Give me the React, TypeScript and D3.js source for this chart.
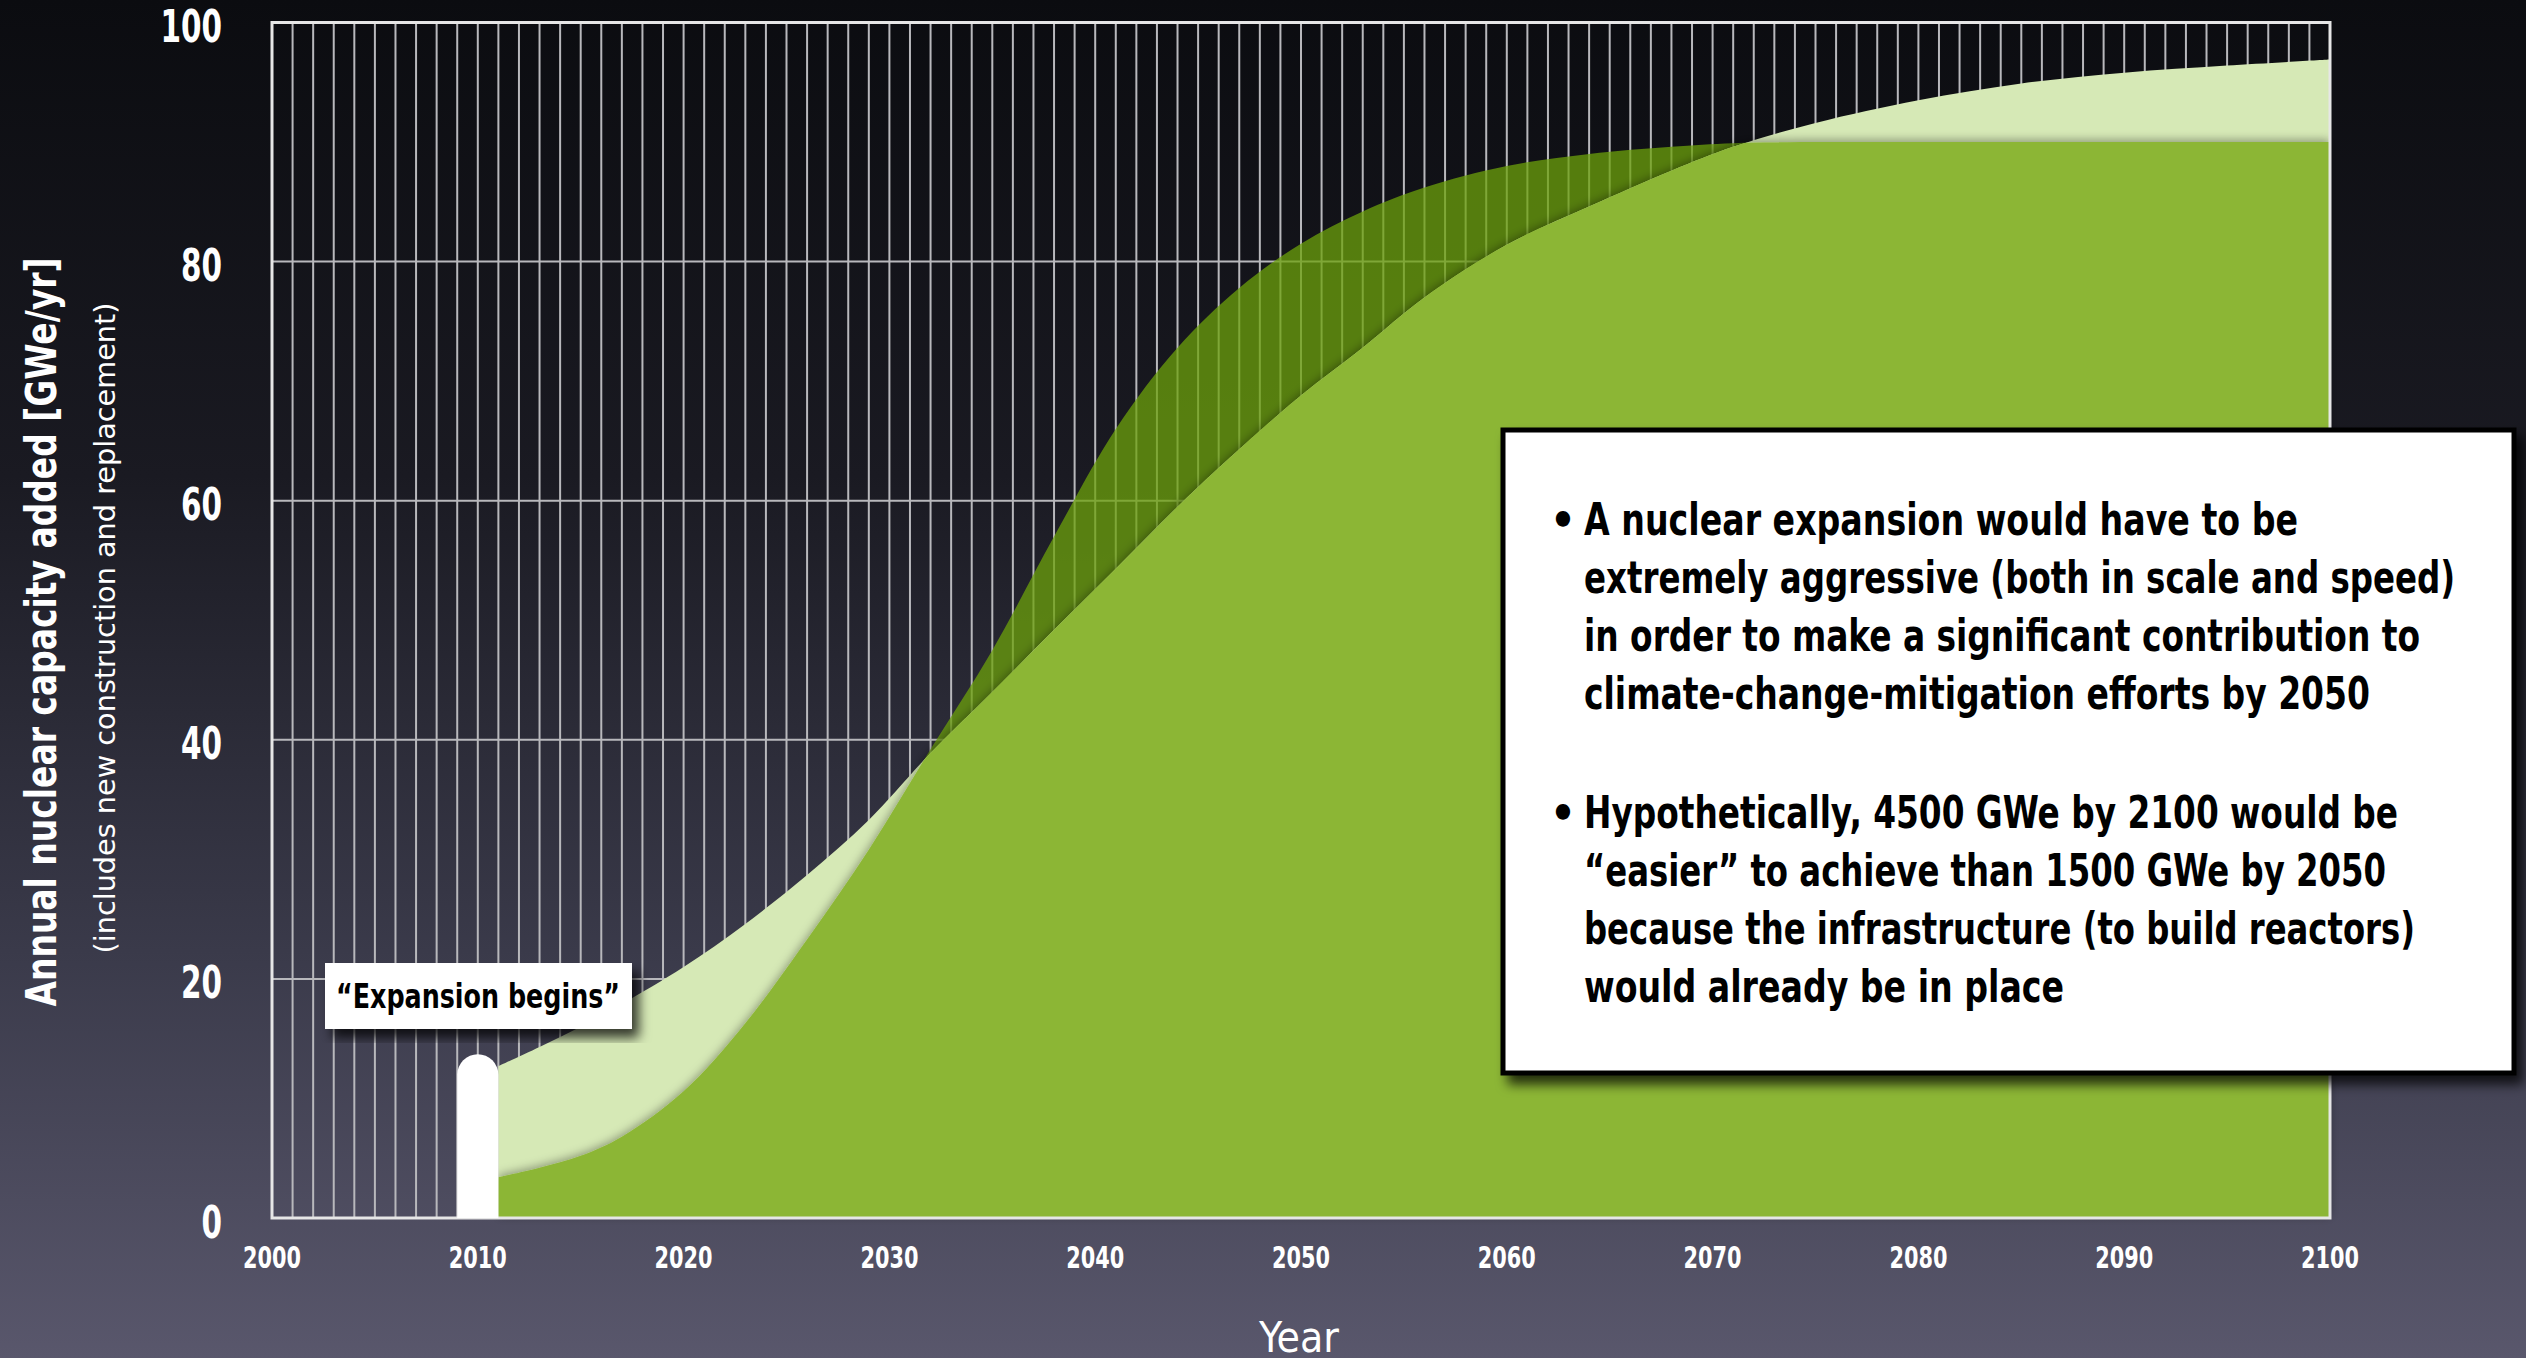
import React from "react"
import * as d3 from "d3"

// Years; the build-out starts in 2011
const years = [2011, 2013, 2015, 2017, 2020, 2023, 2026, 2029, 2032, 2035, 2038, 2041, 2044, 2047, 2050, 2053, 2056, 2060, 2064, 2068, 2071, 2075, 2080, 2085, 2090, 2095, 2100]

// Fast build-out (1500 GWe by 2050), GWe/yr
const fastBuild = [3.4, 4.2, 5.2, 6.8, 10.6, 16.3, 23.3, 30.8, 39.2, 47.5, 57.0, 66.0, 72.8, 77.8, 81.5, 84.2, 86.2, 88.0, 89.0, 89.6, 89.9, 90, 90, 90, 90, 90, 90]

// Slow build-out (4500 GWe by 2100), GWe/yr
const slowBuild = [12.7, 14.3, 16.0, 17.9, 21.0, 24.6, 28.7, 33.3, 38.9, 44.0, 49.2, 54.3, 59.5, 64.3, 68.8, 72.8, 77.0, 81.4, 84.6, 87.6, 89.6, 91.6, 93.5, 94.9, 95.8, 96.4, 96.9]

const xTicks = [2000, 2010, 2020, 2030, 2040, 2050, 2060, 2070, 2080, 2090, 2100]
const yTicks = [0, 20, 40, 60, 80, 100]

// white marker where the expansion begins
const markerYears = [2009, 2011]
const markerTop = 13.7

const calloutText = "“Expansion begins”"
const notes = [
    ["A nuclear expansion would have to be",
        "extremely aggressive (both in scale and speed)",
        "in order to make a significant contribution to",
        "climate-change-mitigation efforts by 2050"],
    ["Hypothetically, 4500 GWe by 2100 would be",
        "“easier” to achieve than 1500 GWe by 2050",
        "because the infrastructure (to build reactors)",
        "would already be in place"],
]

const W = 2526
const H = 1358
const plot = { left: 272, right: 2330, top: 22.5, bottom: 1218 }
const FONT = "'Liberation Sans Narrow', 'DejaVu Sans Condensed', 'Roboto', sans-serif"

// line widths measured on the slide, so the condensed look holds whatever font is found
const noteWidths = [[714, 871, 836, 786], [814, 802, 831, 480]]

export default function App() {
    const x = d3.scaleLinear().domain([2000, 2100]).range([plot.left, plot.right])
    const y = d3.scaleLinear().domain([0, 100]).range([plot.bottom, plot.top])

    const areaOf = (vals: number[]) =>
        d3.area<number>()
            .x((_, i) => x(years[i]))
            .y0(y(0))
            .y1(d => y(d))
            .curve(d3.curveCatmullRom.alpha(0.5))(vals) as string

    const fastArea = areaOf(fastBuild)
    const slowArea = areaOf(slowBuild)

    // marker: bar with a round top
    const mx0 = x(markerYears[0])
    const mx1 = x(markerYears[1])
    const r = (mx1 - mx0) / 2
    const mTop = y(markerTop)
    const markerPath = `M${mx0},${y(0)} L${mx0},${mTop + r} A${r},${r} 0 0 1 ${mx1},${mTop + r} L${mx1},${y(0)} Z`

    return (
        <svg width={W} height={H} style={{ position: "fixed", left: 0, top: 0, display: "block" }}>
            <defs>
                <linearGradient id="bg" x1="0" y1="0" x2="0" y2="1">
                    <stop offset="0" stopColor="#0b0c10" />
                    <stop offset="0.35" stopColor="#1a1a22" />
                    <stop offset="0.7" stopColor="#3a3a4a" />
                    <stop offset="1" stopColor="#59576c" />
                </linearGradient>
                <clipPath id="underFast">
                    <path d={fastArea} />
                </clipPath>
                <filter id="softShadow" x="-5%" y="-5%" width="110%" height="110%">
                    <feDropShadow dx="0" dy="-2" stdDeviation="5" floodColor="#000" floodOpacity="0.35" />
                </filter>
                <filter id="boxShadow" x="-10%" y="-10%" width="125%" height="130%">
                    <feDropShadow dx="7" dy="9" stdDeviation="6" floodColor="#000" floodOpacity="0.75" />
                </filter>
            </defs>

            <rect width={W} height={H} fill="url(#bg)" />

            {/* grid */}
            <g stroke="#b8b8bc" strokeWidth={2}>
                {x.ticks(100).filter(t => t > 2000 && t < 2100).map(t => (
                    <line key={"v" + t} x1={x(t)} x2={x(t)} y1={plot.top} y2={plot.bottom} />
                ))}
                {yTicks.filter(t => t > 0 && t < 100).map(t => (
                    <line key={"h" + t} x1={plot.left} x2={plot.right} y1={y(t)} y2={y(t)} />
                ))}
            </g>

            {/* fast build-out, see-through where it runs above the slow one */}
            <path d={fastArea} fill="rgb(108,162,11)" fillOpacity={0.75} />
            {/* slow build-out */}
            <path d={slowArea} fill="#d6e9b6" />
            {/* overlap of the two */}
            <g filter="url(#softShadow)">
                <path d={slowArea} fill="#8cb634" clipPath="url(#underFast)" />
            </g>

            {/* frame */}
            <rect x={plot.left} y={plot.top} width={plot.right - plot.left} height={plot.bottom - plot.top}
                fill="none" stroke="#e6e6e6" strokeWidth={3} />

            <path d={markerPath} fill="#fff" />

            {/* y tick labels */}
            <g fill="#fff" fontFamily={FONT} fontSize={44} fontWeight={600} textAnchor="end">
                {yTicks.map(t => (
                    <text key={t} x={222} y={y(t) + 4} dominantBaseline="central"
                        textLength={String(t).length * 20.5} lengthAdjust="spacingAndGlyphs">{t}</text>
                ))}
            </g>
            {/* x tick labels */}
            <g fill="#fff" fontFamily={FONT} fontSize={30} fontWeight={600} textAnchor="middle">
                {xTicks.map(t => (
                    <text key={t} x={x(t)} y={1257} dominantBaseline="central"
                        textLength={58} lengthAdjust="spacingAndGlyphs">{t}</text>
                ))}
            </g>

            <text x={1299} y={1352} fill="#fff" fontFamily={FONT} fontSize={42} textAnchor="middle"
                textLength={80} lengthAdjust="spacingAndGlyphs">Year</text>

            <text transform="translate(56,632) rotate(-90)" fill="#fff" fontFamily={FONT} fontSize={42} fontWeight={600}
                textAnchor="middle" textLength={749} lengthAdjust="spacingAndGlyphs">
                Annual nuclear capacity added [GWe/yr]
            </text>
            <text transform="translate(115,628) rotate(-90)" fill="#fff" fontFamily={FONT} fontSize={29}
                textAnchor="middle" textLength={651} lengthAdjust="spacingAndGlyphs">
                (includes new construction and replacement)
            </text>

            {/* callout */}
            <g filter="url(#boxShadow)">
                <rect x={325} y={963} width={307} height={66} fill="#fff" />
            </g>
            <text x={336} y={1008} fill="#000" fontFamily={FONT} fontSize={34} fontWeight={600}
                textLength={284} lengthAdjust="spacingAndGlyphs">{calloutText}</text>

            {/* note box */}
            <g filter="url(#boxShadow)">
                <rect x={1503} y={430} width={1011} height={643} fill="#fff" stroke="#000" strokeWidth={5} />
            </g>
            <g fill="#000" fontFamily={FONT} fontSize={45} fontWeight={600}>
                {notes.map((lines, gi) => {
                    const base = gi === 0 ? 535 : 828
                    return (
                        <g key={gi}>
                            <text x={1563} y={base} textAnchor="middle">•</text>
                            {lines.map((ln, li) => (
                                <text key={li} x={1584} y={base + li * 58}
                                    textLength={noteWidths[gi][li]} lengthAdjust="spacingAndGlyphs">{ln}</text>
                            ))}
                        </g>
                    )
                })}
            </g>
        </svg>
    )
}
